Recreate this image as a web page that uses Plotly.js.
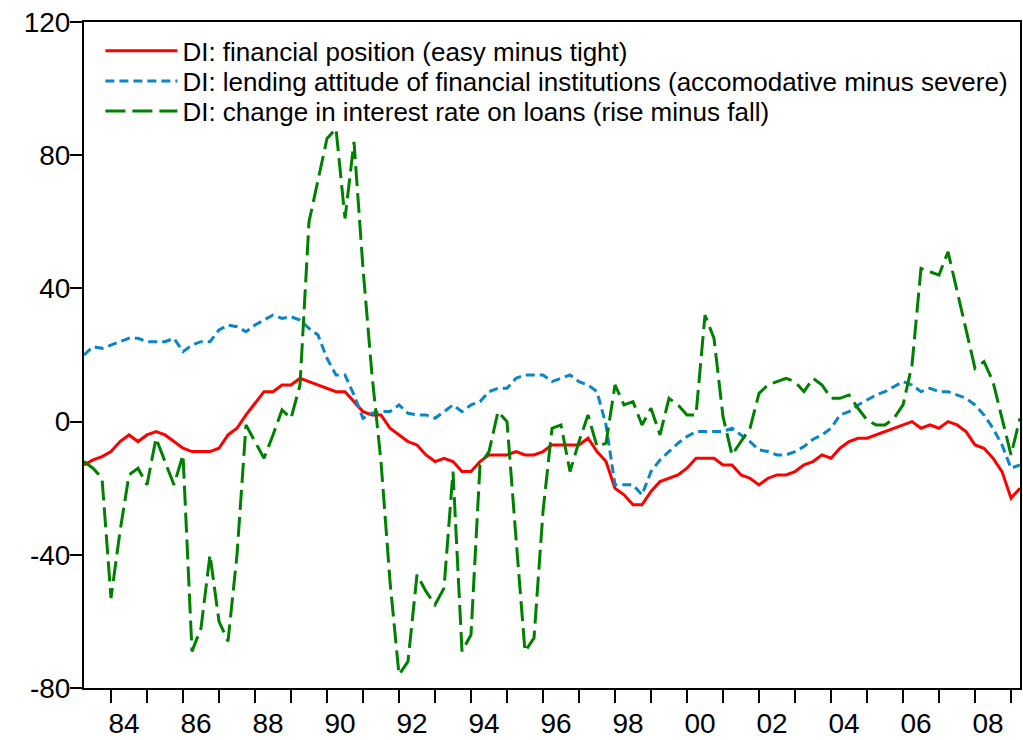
<!DOCTYPE html>
<html><head><meta charset="utf-8">
<script src="https://cdn.plot.ly/plotly-3.0.1.min.js"></script>
<style>html,body{margin:0;padding:0;background:#fff}#chart{width:1023px;height:740px}</style>
</head><body><div id="chart"></div>
<script>
// Quarterly series, first observation 1983 Q2
const startYear = 1983, startQuarter = 2;

const financialPosition = [
  -13,-11.5,-10.5,-9,-6,-4,-6,-4,-3,-4,
  -6,-8,-9,-9,-9,-8,-4,-2,2,5.5,
  9,9,11,11,13,12,11,10,9,9,
  6,3,2,2,-2,-4,-6,-7,-10,-12,
  -11,-12,-15,-15,-12,-10,-10,-10,-9,-10,
  -10,-9,-7,-7,-7,-7,-5,-9,-12,-20,
  -22,-25,-25,-21,-18,-17,-16,-14,-11,-11,
  -11,-13,-13,-16,-17,-19,-17,-16,-16,-15,
  -13,-12,-10,-11,-8,-6,-5,-5,-4,-3,
  -2,-1,0,-2,-1,-2,0,-1,-3,-7,
  -8,-11,-15,-23,-20
];

const lendingAttitude = [
  20,22.5,22,23,24,25,25,24,24,24,
  25,21,23,24,24,27.5,29,28.5,27,29,
  30.5,32,31,31.5,30.5,28,26,19,14,14,
  8,1,2.5,3,3,5,2.5,2,2,1,
  3,5,3,5,6,9,10,10,13,14,
  14,14,12,13,14,12,11,9,-1,-19,
  -19,-19,-22,-15,-11.5,-9,-6.5,-4.5,-3,-3,
  -3,-3,-2,-4,-6,-8.5,-9,-10,-10,-9,
  -7.5,-5.3,-4,-2,2,3,5,6.5,8,9,
  10.5,12,11,9,10,9,9,8,7,5,
  2,-2,-7,-14,-13
];

const interestRateChange = [
  -12,-14,-17,-53,-33,-16,-14,-19,-5,-12,
  -19,-10,-69,-62,-40,-60,-66,-40,-1,-6,
  -11,-4,3.5,1,11,60,72,85,88,61,
  84,46,14,-12,-48,-76,-72,-46,-51,-55,
  -50,-15,-69,-64,-13,-9,3,0,-35,-69,
  -65,-27,-2,-1,-15,-6,2,-7.5,-6.5,11,
  5,6,-1,4,-4,7,5,2,2,32,
  25,1.5,-10,-6,-2,8.5,11,12,13,12,
  9,13,11,7,7,8,4,0.5,-1,-1,
  1,5,17,46,45,44,51,39,27,16,
  18,12,1,-10,1
];

const seriesNames = [
  'DI: financial position (easy minus tight)',
  'DI: lending attitude of financial institutions (accomodative minus severe)',
  'DI: change in interest rate on loans (rise minus fall)'
];

const yearTicks = [1984,1985,1986,1987,1988,1989,1990,1991,1992,1993,1994,1995,1996,
                   1997,1998,1999,2000,2001,2002,2003,2004,2005,2006,2007,2008,2009];
const yearLabels = ['84','','86','','88','','90','','92','','94','','96',
                    '','98','','00','','02','','04','','06','','08',''];
const yTicks = [-80,-40,0,40,80,120];

// time position of each quarterly observation
const t = financialPosition.map((_, i) => {
  const q = (startQuarter - 1) + i;
  return startYear + Math.floor(q / 4) + (q % 4) / 4;
});

const traces = [
  {x: t, y: financialPosition, name: seriesNames[0], type: 'scatter', mode: 'lines',
   legend: 'legend', line: {color: '#ff0000', width: 3}},
  {x: t, y: lendingAttitude, name: seriesNames[1], type: 'scatter', mode: 'lines',
   legend: 'legend2', line: {color: '#0a86c8', width: 3, dash: '9px,5px'}},
  {x: t, y: interestRateChange, name: seriesNames[2], type: 'scatter', mode: 'lines',
   legend: 'legend3', line: {color: '#008000', width: 3, dash: '20px,7px'}}
];

const tickFont = {family: 'Liberation Sans, Arial, sans-serif', size: 28, color: '#000'};
const legendFont = {family: 'Liberation Sans, Arial, sans-serif', size: 26, color: '#000'};

function legendRow(yPaper) {
  return {
    x: 0.0175, y: yPaper, xanchor: 'left', yanchor: 'middle',
    bgcolor: 'rgba(0,0,0,0)', borderwidth: 0,
    font: legendFont, itemwidth: 72
  };
}

const layout = {
  width: 1023, height: 740,
  paper_bgcolor: '#fff', plot_bgcolor: '#fff',
  margin: {l: 84, r: 3, t: 22, b: 52, pad: 0, autoexpand: false},
  showlegend: true,
  legend: legendRow(0.9565),
  legend2: legendRow(0.9114),
  legend3: legendRow(0.8664),
  xaxis: {
    range: [1983.25, 2009.25], showgrid: false, zeroline: false,
    showline: true, linecolor: '#000', linewidth: 2, mirror: true,
    ticks: 'outside', ticklen: 13, tickwidth: 2, tickcolor: '#000',
    tickmode: 'array', tickvals: yearTicks, ticktext: yearLabels,
    ticklabelshift: 13, ticklabelstandoff: -4,
    tickfont: tickFont, fixedrange: true
  },
  yaxis: {
    range: [-80, 120], showgrid: false, zeroline: false,
    showline: true, linecolor: '#000', linewidth: 2, mirror: true,
    ticks: 'outside', ticklen: 12, tickwidth: 2, tickcolor: '#000',
    tickmode: 'array', tickvals: yTicks, ticktext: yTicks.map(String),
    ticklabelstandoff: -6,
    tickfont: tickFont, fixedrange: true
  }
};

Plotly.newPlot('chart', traces, layout, {displayModeBar: false, staticPlot: true});
</script>
</body></html>
